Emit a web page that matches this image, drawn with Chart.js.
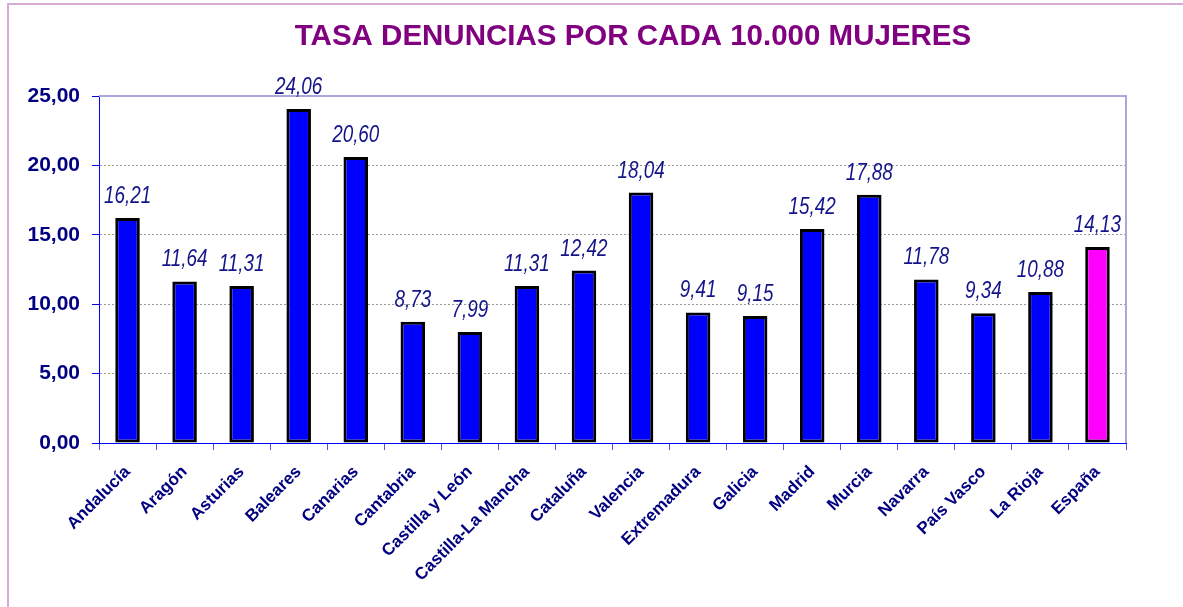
<!DOCTYPE html>
<html>
<head>
    <title>Tasa denuncias por cada 10.000 mujeres</title>
    <script src="https://cdn.jsdelivr.net/npm/chart.js"></script>
    <style>
        body { margin: 0; background: #fff; }
        #wrap { width: 1183px; height: 607px; }
    </style>
</head>
<body>
    <div id="wrap"><canvas id="tasaChart" width="1183" height="607"></canvas></div>
    <script>
        const chartTitle = 'TASA DENUNCIAS POR CADA 10.000 MUJERES';
        const regiones = ['Andalucía', 'Aragón', 'Asturias', 'Baleares', 'Canarias', 'Cantabria',
            'Castilla y León', 'Castilla-La Mancha', 'Cataluña', 'Valencia', 'Extremadura', 'Galicia',
            'Madrid', 'Murcia', 'Navarra', 'País Vasco', 'La Rioja', 'España'];
        const tasas = [16.21, 11.64, 11.31, 24.06, 20.60, 8.73, 7.99, 11.31, 12.42, 18.04, 9.41, 9.15,
            15.42, 17.88, 11.78, 9.34, 10.88, 14.13];
        const yTicks = [0, 5, 10, 15, 20, 25];

        const fmt = v => v.toFixed(2).replace('.', ',');
        const navy = '#000080';

        // outer frame, title, plot frame and value labels
        const decor = {
            id: 'decor',
            beforeDraw(chart) {
                const c = chart.ctx;
                c.save();
                c.strokeStyle = '#d6acd6';
                c.lineWidth = 2;
                c.beginPath();
                c.moveTo(8, 607);
                c.lineTo(8, 4);
                c.lineTo(1183, 4);
                c.stroke();
                c.fillStyle = '#800080';
                c.font = 'bold 29.5px "Liberation Sans", Arial, sans-serif';
                c.textAlign = 'center';
                c.textBaseline = 'alphabetic';
                c.fillText(chartTitle, 633, 45);
                c.restore();
            },
            afterDatasetsDraw(chart) {
                const c = chart.ctx;
                const a = chart.chartArea;
                c.save();
                c.strokeStyle = '#a8a8dc';
                c.lineWidth = 2;
                c.beginPath();
                c.moveTo(a.left, a.top);
                c.lineTo(a.right, a.top);
                c.lineTo(a.right, a.bottom);
                c.stroke();
                c.fillStyle = '#14148a';
                c.font = 'italic 23px "Liberation Sans Narrow", "Arial Narrow", "Liberation Sans", Arial, sans-serif';
                c.textAlign = 'center';
                c.textBaseline = 'alphabetic';
                // no narrow face installed: squeeze the italic horizontally
                const sx = 0.82;
                chart.getDatasetMeta(0).data.forEach((bar, i) => {
                    c.save();
                    c.translate(bar.x, bar.y - 15);
                    c.scale(sx, 1);
                    c.fillText(fmt(tasas[i]), 0, 0);
                    c.restore();
                });
                c.restore();
            }
        };

        const ctx = document.getElementById('tasaChart').getContext('2d');
        new Chart(ctx, {
            type: 'bar',
            data: {
                labels: regiones,
                datasets: [{
                    data: tasas,
                    backgroundColor: regiones.map(r => r === 'España' ? '#ff00ff' : '#0000ff'),
                    borderColor: '#000000',
                    borderWidth: 3,
                    borderSkipped: false,
                    barPercentage: 0.43,
                    categoryPercentage: 1
                }]
            },
            options: {
                responsive: false,
                animation: false,
                layout: { padding: { top: 96, right: 57, left: 0, bottom: 0 } },
                plugins: {
                    legend: { display: false },
                    title: { display: false },
                    tooltip: { enabled: false }
                },
                scales: {
                    x: {
                        afterFit: s => { s.height = 164; },
                        grid: {
                            offset: true,
                            drawOnChartArea: false,
                            drawTicks: true,
                            tickLength: 7,
                            tickColor: '#5050f0'
                        },
                        border: { color: '#0000ff', width: 1 },
                        ticks: {
                            minRotation: 45,
                            maxRotation: 45,
                            padding: 12,
                            color: navy,
                            font: { family: '"Liberation Sans", Arial, sans-serif', size: 17, weight: 'bold' }
                        }
                    },
                    y: {
                        min: 0,
                        max: 25,
                        afterFit: s => { s.width = 99; },
                        afterBuildTicks: s => { s.ticks = yTicks.map(v => ({ value: v })); },
                        grid: {
                            color: '#9a9a9a',
                            tickColor: '#0000ff',
                            tickLength: 7,
                            drawTicks: true
                        },
                        border: { color: '#0000ff', width: 1, dash: [2, 2] },
                        ticks: {
                            padding: 12,
                            color: navy,
                            callback: v => fmt(v),
                            font: { family: '"Liberation Sans", Arial, sans-serif', size: 21, weight: 'bold' }
                        }
                    }
                }
            },
            plugins: [decor]
        });
    </script>
</body>
</html>
